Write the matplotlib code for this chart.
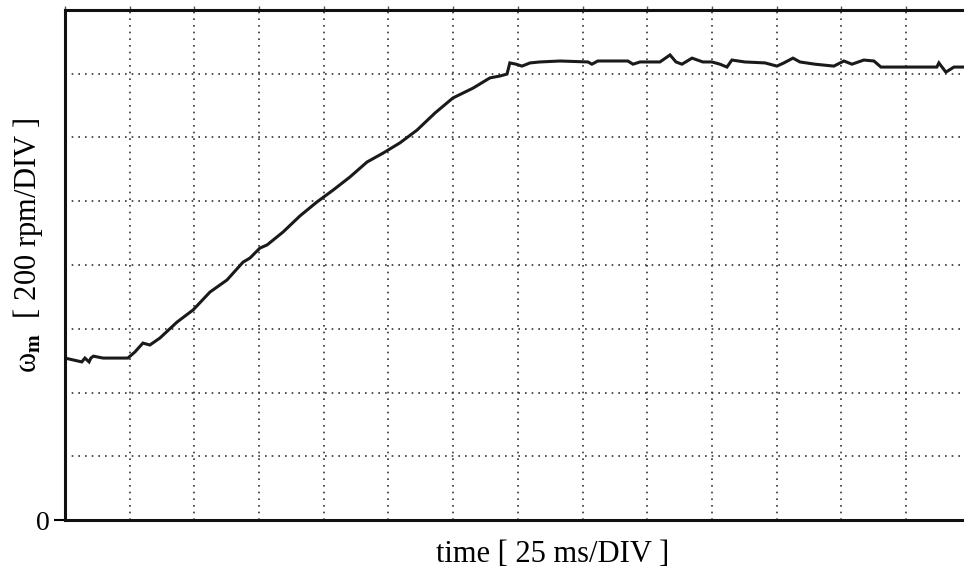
"""
plot.py - oscilloscope-style speed trace (omega_m vs time)
"""
import matplotlib
matplotlib.use('Agg')
import matplotlib.pyplot as plt
from matplotlib.ticker import MultipleLocator

plt.rcParams.update({
    'font.family': 'Liberation Serif',
    'mathtext.fontset': 'stix',
    'figure.dpi': 100,
})

# trace: time [ms], speed [rpm]
time_ms = [0, 6.5, 7.7, 9.3, 10, 11, 14.7, 24.3,
           27.0, 30.1, 32.8, 36.7, 43.3, 49.5, 56.0, 62.6, 68.8, 71.5, 75.3, 78.1,
           84.2, 90.8, 97.4, 103.6, 110.1, 116.7, 122.9, 129.4, 136.0, 143.0,
           149.9, 157.7, 164.2, 168.1, 170.8, 171.9, 174.3, 176.6, 179.7, 183.5,
           191.3, 202.1, 203.6, 205.9, 217.5, 219.5, 222.2, 229.9, 233.8, 236.1,
           238.4, 242.3, 246.5, 250.0, 253.1, 255.8, 257.7, 262.7, 270.5, 275.1,
           277.8, 281.3, 284.0, 289.8, 297.1, 301.0, 304.1, 308.7, 312.6, 315.3,
           324.6, 336.9, 337.7, 340.4, 343.5, 347.4]
speed_rpm = [508, 496, 508, 496, 508, 514, 508, 508,
             527, 555, 549, 571, 621, 659, 715, 753, 809, 822, 853, 863,
             903, 954, 998, 1035, 1076, 1123, 1151, 1183, 1223, 1277,
             1324, 1355, 1387, 1393, 1399, 1434, 1430, 1424, 1434, 1437,
             1440, 1437, 1430, 1440, 1440, 1430, 1437, 1437, 1459, 1437,
             1430, 1449, 1437, 1437, 1430, 1421, 1443, 1437, 1434, 1424,
             1434, 1449, 1437, 1430, 1424, 1440, 1430, 1443, 1440, 1421,
             1421, 1421, 1434, 1405, 1421, 1421]

MS_PER_DIV = 25
RPM_PER_DIV = 200
X_MAX = 347.4
Y_MAX = 1600

fig = plt.figure(figsize=(9.64, 5.74))
ax = fig.add_axes([65 / 964, 54 / 574, 1 - 65 / 964, 510 / 574])

ax.plot(time_ms, speed_rpm, color='#1a1a1a', linewidth=2.2, solid_joinstyle='miter')

ax.set_xlim(0, X_MAX)
ax.set_ylim(0, Y_MAX)

# dotted graticule on minor ticks
ax.xaxis.set_minor_locator(MultipleLocator(MS_PER_DIV))
ax.yaxis.set_minor_locator(MultipleLocator(RPM_PER_DIV))
ax.set_xticks([])
ax.set_yticks([0])
ax.set_yticklabels(['0'], fontsize=20)
ax.grid(which='minor', color='#333333', linestyle=(0, (1, 3)), linewidth=1.2)
ax.tick_params(axis='y', which='major', length=8, width=1.5, pad=3)
ax.tick_params(axis='y', which='minor', length=0)
ax.tick_params(axis='x', which='minor', bottom=False, top=True, direction='out',
               length=3, width=1, color='#555555')

for side in ['left', 'top', 'bottom']:
    ax.spines[side].set_linewidth(2.2)
    ax.spines[side].set_color('#111111')
ax.spines['right'].set_visible(False)

fig.text(553 / 964, 1 - 555 / 574, 'time [ 25 ms/DIV ]', fontsize=22,
         ha='center', va='center')
fig.text(28 / 964, 1 - 245 / 574, 'ω$_{\\mathbf{m}}$  [ 200 rpm/DIV ]',
         fontsize=22, rotation=90, ha='center', va='center')

fig.savefig('out.png', dpi=100)
